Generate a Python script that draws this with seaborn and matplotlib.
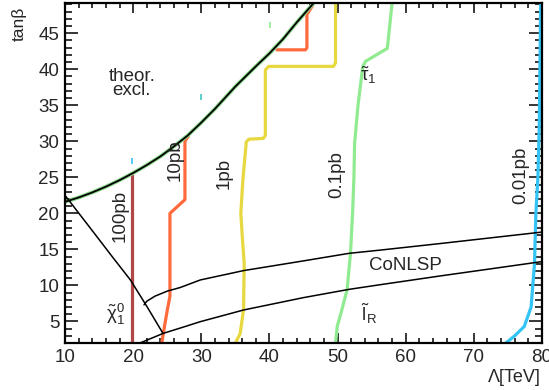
import matplotlib
matplotlib.use("Agg")
import matplotlib.pyplot as plt
from matplotlib.ticker import MultipleLocator
import seaborn as sns

# ------------------------------------------------------------------
# Dados (Lambda [TeV] vs tan(beta))
# ------------------------------------------------------------------
boundary_x = [10, 12, 14, 16, 18, 20, 22, 24, 26, 28, 30, 32, 35, 38, 40, 42, 44, 46.5]
boundary_y = [21.6, 22.2, 22.9, 23.7, 24.6, 25.6, 26.7, 27.9, 29.3, 30.8, 32.6, 34.5,
              37.6, 40.4, 42.2, 44.2, 46.5, 49.2]

chi_x = [10, 14, 17, 19.6, 22, 24.4]
chi_y = [22.5, 17.6, 13.9, 10.75, 7.1, 3.3]

conlsp_up_x = [21.6, 22.0, 23.2, 25, 26.9, 29.85, 36.2, 45, 51.7, 56.3, 65, 80]
conlsp_up_y = [7.3, 7.8, 8.5, 9.2, 9.7, 10.75, 12.05, 13.4, 14.45, 14.9, 15.8, 17.4]

conlsp_lo_x = [21, 24.45, 27, 29.85, 36.2, 45, 51.7, 56.3, 65, 80]
conlsp_lo_y = [2, 3.35, 4.1, 4.96, 6.58, 8.3, 9.45, 10.1, 11.3, 13.3]

pb100_x = [19.9, 19.9]
pb100_y = [2, 25.6]

pb10a_x = [24.2, 24.6, 25.0, 25.4, 25.4, 27.6, 27.6, 28.1]
pb10a_y = [2, 4.3, 6.5, 8.5, 20.0, 21.9, 30.0, 30.7]
pb10b_x = [41.1, 45.3, 45.5, 45.5, 46.3]
pb10b_y = [42.7, 42.7, 43.0, 47.6, 48.8]

pb1_x = [35.0, 35.7, 36.2, 36.3, 36.0, 35.8, 36.1, 36.5, 36.6, 37.0, 39.1, 39.4, 39.4,
         39.9, 49.4, 49.7, 49.7]
pb1_y = [2, 3.3, 6.6, 13.0, 17.0, 20.0, 24.6, 28.8, 29.9, 30.3, 30.4, 30.8, 39.9,
         40.4, 40.4, 40.9, 49.2]

pb01_x = [49.7, 49.95, 50.6, 51.4, 51.9, 52.2, 52.4, 52.5, 53.0, 53.7, 54.1, 57.3, 58.0]
pb01_y = [2, 4.3, 6.5, 9.4, 14.5, 20.0, 25.0, 29.7, 35.0, 40.4, 41.1, 42.9, 49.2]

pb001_x = [74.7, 76.0, 77.4, 78.4, 78.9, 79.1, 79.4, 79.6, 79.8]
pb001_y = [2, 3.0, 4.3, 7.0, 13.0, 20.0, 25.0, 32.0, 49.2]

stray_x = [19.8, 29.95, 40.05]
stray_y = [27.2, 36.1, 46.2]
stray_c = ["#33c4f5", "#40c8c0", "#90ea90"]

# ------------------------------------------------------------------
# Estilo
# ------------------------------------------------------------------
sns.set_theme(style="ticks")
plt.rcParams["font.family"] = ["Liberation Sans", "DejaVu Sans"]
plt.rcParams["mathtext.fontset"] = "custom"
plt.rcParams["mathtext.rm"] = "Liberation Sans"
plt.rcParams["mathtext.it"] = "Liberation Sans"
plt.rcParams["mathtext.bf"] = "Liberation Sans:bold"

C100 = "#b04848"
C10 = "#ff6a3d"
C1 = "#e8d840"
C01 = "#90ea90"
C001 = "#33c4f5"

fig = plt.figure(figsize=(5.49, 3.90), dpi=100)
ax = fig.add_axes([65 / 549, 47 / 390, 477 / 549, 340 / 390])


def draw(x, y, color, lw):
    sns.lineplot(x=x, y=y, sort=False, estimator=None, color=color, lw=lw,
                 ax=ax, legend=False)


# curvas de secção de choque
draw(pb100_x, pb100_y, C100, 2.3)
draw(pb10a_x, pb10a_y, C10, 2.3)
draw(pb10b_x, pb10b_y, C10, 2.3)
draw(pb1_x, pb1_y, C1, 2.3)
draw(pb01_x, pb01_y, C01, 2.3)
draw(pb001_x, pb001_y, C001, 2.3)

# limite teórico e linhas NLSP
draw(boundary_x, boundary_y, "#8ad88a", 2.8)
draw(boundary_x, boundary_y, "black", 1.3)
draw(chi_x, chi_y, "black", 1.1)
draw(conlsp_up_x, conlsp_up_y, "black", 1.1)
draw(conlsp_lo_x, conlsp_lo_y, "black", 1.1)

for sx, sy, sc in zip(stray_x, stray_y, stray_c):
    ax.plot([sx], [sy], marker="|", ms=4, mew=1.2, color=sc)

ax.set_xlim(10, 80)
ax.set_ylim(2, 49.2)

# textos
fs = 13.5
ax.text(19.8, 38.0, "theor.\nexcl.", ha="center", va="center", fontsize=fs,
        linespacing=0.78)
ax.text(18.1, 19.6, "100pb", rotation=90, ha="center", va="center", fontsize=fs)
ax.text(26.2, 27.4, "10pb", rotation=90, ha="center", va="center", fontsize=fs)
ax.text(33.3, 25.5, "1pb", rotation=90, ha="center", va="center", fontsize=fs)
ax.text(49.85, 25.4, "0.1pb", rotation=90, ha="center", va="center", fontsize=fs)
ax.text(76.9, 25.3, "0.01pb", rotation=90, ha="center", va="center", fontsize=fs)
ax.text(54.5, 39.2, r"$\tilde{\tau}_{1}$", ha="center", va="center", fontsize=fs)
ax.text(17.35, 6.0, r"$\tilde{\chi}_{1}^{0}$", ha="center", va="center", fontsize=fs)
ax.text(60.0, 12.8, "CoNLSP", ha="center", va="center", fontsize=fs)
ax.text(54.6, 6.1, r"$\tilde{l}_{R}$", ha="center", va="center", fontsize=fs)

ax.set_xlabel("Λ[TeV]", loc="right", fontsize=13)
ax.xaxis.set_label_coords(0.997, -0.076)
ax.set_ylabel("tanβ", loc="top", fontsize=12.5)
ax.yaxis.set_label_coords(-0.08, 0.99)

# eixos estilo ROOT
ax.xaxis.set_major_locator(MultipleLocator(10))
ax.xaxis.set_minor_locator(MultipleLocator(2))
ax.yaxis.set_major_locator(MultipleLocator(5))
ax.yaxis.set_minor_locator(MultipleLocator(1))
ax.tick_params(axis="both", which="both", direction="in", top=True, right=True,
               labelsize=13.5, width=1.1, color="black")
ax.tick_params(axis="x", which="major", length=7.5, pad=4)
ax.tick_params(axis="x", which="minor", length=3.7)
ax.tick_params(axis="y", which="major", length=9.5, pad=4)
ax.tick_params(axis="y", which="minor", length=5)
for sp in ax.spines.values():
    sp.set_visible(True)
    sp.set_linewidth(1.6)
    sp.set_color("black")
ax.set_facecolor("white")
fig.patch.set_facecolor("white")

fig.savefig("out.png", dpi=100)
